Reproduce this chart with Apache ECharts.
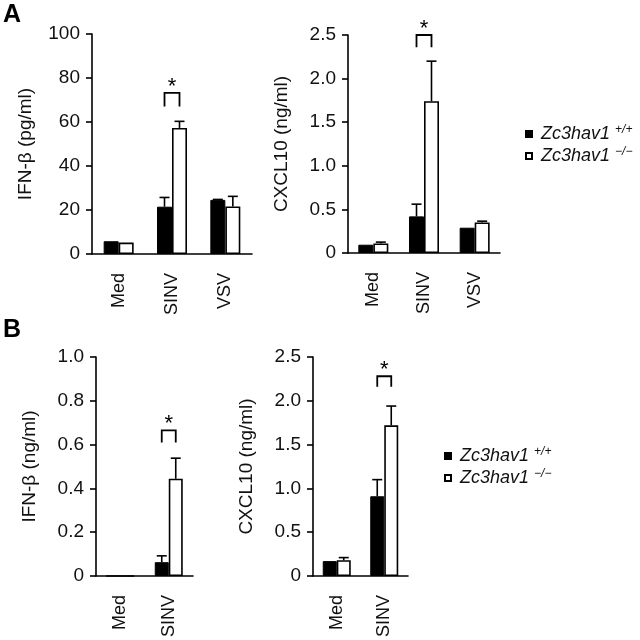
<!DOCTYPE html>
<html><head><meta charset="utf-8">
<script src="https://cdn.jsdelivr.net/npm/echarts@6/dist/echarts.min.js"></script>
<style>html,body{margin:0;padding:0;background:#fff}#c{width:640px;height:640px}</style>
</head><body><div id="c"></div>
<script>
// ---- data ----
const categoriesA = ['Med', 'SINV', 'VSV'];
const categoriesB = ['Med', 'SINV'];
const seriesNames = ['Zc3hav1 +/+', 'Zc3hav1 −/−'];

// Panel A, IFN-β (pg/ml)
const ifnA_wt = [5.8, 21.5, 24.6];
const ifnA_wtErr = [5.8, 25.7, 24.8];
const ifnA_ko = [5.2, 57.3, 21.6];
const ifnA_koErr = [5.2, 60.3, 26.2];
// Panel A, CXCL10 (ng/ml)
const cxclA_wt = [0.095, 0.42, 0.29];
const cxclA_wtErr = [0.095, 0.56, 0.29];
const cxclA_ko = [0.11, 1.74, 0.35];
const cxclA_koErr = [0.125, 2.20, 0.365];
// Panel B, IFN-β (ng/ml)
const ifnB_wt = [0, 0.063];
const ifnB_wtErr = [0, 0.092];
const ifnB_ko = [0, 0.444];
const ifnB_koErr = [0, 0.538];
// Panel B, CXCL10 (ng/ml)
const cxclB_wt = [0.17, 0.91];
const cxclB_wtErr = [0.17, 1.10];
const cxclB_ko = [0.18, 1.72];
const cxclB_koErr = [0.21, 1.94];

// significance brackets: [category index, leg bottom, bracket top]
const sigA_ifn = [[1, 67, 73.2]];
const sigA_cxcl = [[1, 2.36, 2.5]];
const sigB_ifn = [[1, 0.61, 0.665]];
const sigB_cxcl = [[1, 2.16, 2.28]];

// y-axis settings
const yMaxA_ifn = 100, yStepA_ifn = 20;
const yMaxA_cxcl = 2.5, yStepA_cxcl = 0.5;
const yMaxB_ifn = 1.0, yStepB_ifn = 0.2;
const yMaxB_cxcl = 2.5, yStepB_cxcl = 0.5;

// ---- chart ----
const FONT = 'Liberation Sans, Arial, Helvetica, sans-serif';
const TXT = '#111';
const fmtInt = v => String(v);
const fmt1 = v => v === 0 ? '0' : v.toFixed(1);

const panels = [
  { grid: { left: 92, top: 34, width: 160, height: 220 }, cats: categoriesA, max: yMaxA_ifn, step: yStepA_ifn, fmt: fmtInt,
    name: 'IFN-β (pg/ml)', wt: ifnA_wt, wtE: ifnA_wtErr, ko: ifnA_ko, koE: ifnA_koErr, sig: sigA_ifn, bw: 15 },
  { grid: { left: 348, top: 35, width: 152, height: 218 }, cats: categoriesA, max: yMaxA_cxcl, step: yStepA_cxcl, fmt: fmt1,
    name: 'CXCL10 (ng/ml)', wt: cxclA_wt, wtE: cxclA_wtErr, ko: cxclA_ko, koE: cxclA_koErr, sig: sigA_cxcl, bw: 15 },
  { grid: { left: 96, top: 357, width: 97, height: 219.5 }, cats: categoriesB, max: yMaxB_ifn, step: yStepB_ifn, fmt: fmt1,
    name: 'IFN-β (ng/ml)', wt: ifnB_wt, wtE: ifnB_wtErr, ko: ifnB_ko, koE: ifnB_koErr, sig: sigB_ifn, bw: 14 },
  { grid: { left: 313, top: 357, width: 95, height: 219.5 }, cats: categoriesB, max: yMaxB_cxcl, step: yStepB_cxcl, fmt: fmt1,
    name: 'CXCL10 (ng/ml)', wt: cxclB_wt, wtE: cxclB_wtErr, ko: cxclB_ko, koE: cxclB_koErr, sig: sigB_cxcl, bw: 14 }
];

const axisLine = { show: true, lineStyle: { color: '#000', width: 1.6 } };

function errSeries(gi, vals, errs, side, bw) {
  return {
    type: 'custom', xAxisIndex: gi, yAxisIndex: gi, z: 5, silent: true, clip: false,
    data: vals.map((v, i) => [i, v, errs[i]]),
    renderItem(params, api) {
      const i = api.value(0), v = api.value(1), e = api.value(2);
      if (!(e > v)) return;
      const p0 = api.coord([i, v]), p1 = api.coord([i, e]);
      const x = p0[0] + side * bw / 2;
      const st = { stroke: '#000', lineWidth: 1.6 };
      return { type: 'group', children: [
        { type: 'line', shape: { x1: x, y1: p0[1], x2: x, y2: p1[1] }, style: st },
        { type: 'line', shape: { x1: x - 5, y1: p1[1], x2: x + 5, y2: p1[1] }, style: st }
      ] };
    }
  };
}

function sigSeries(gi, sig, bw) {
  return {
    type: 'custom', xAxisIndex: gi, yAxisIndex: gi, z: 6, silent: true, clip: false,
    data: sig,
    renderItem(params, api) {
      const i = api.value(0), lo = api.value(1), hi = api.value(2);
      const pLo = api.coord([i, lo]), pHi = api.coord([i, hi]);
      const xl = pLo[0] - bw / 2, xr = pLo[0] + bw / 2;
      return { type: 'group', children: [
        { type: 'polyline', shape: { points: [[xl, pLo[1]], [xl, pHi[1]], [xr, pHi[1]], [xr, pLo[1]]] },
          style: { stroke: '#000', lineWidth: 1.8, fill: null } },
        { type: 'text', style: { text: '*', x: pLo[0], y: pHi[1] - 6, align: 'center', verticalAlign: 'middle',
          font: '22px ' + FONT, fill: '#000' } }
      ] };
    }
  };
}

const option = {
  animation: false,
  backgroundColor: '#fff',
  grid: panels.map(p => p.grid),
  xAxis: panels.map((p, gi) => ({
    gridIndex: gi, type: 'category', data: p.cats,
    axisLine: axisLine, axisTick: { show: false },
    axisLabel: { rotate: 90, margin: 19, fontSize: 18, color: TXT, fontFamily: FONT }
  })),
  yAxis: panels.map((p, gi) => ({
    gridIndex: gi, type: 'value', min: 0, max: p.max, interval: p.step,
    splitLine: { show: false }, axisLine: axisLine,
    axisTick: { show: true, length: 6, lineStyle: { color: '#000', width: 1.6 } },
    axisLabel: { formatter: p.fmt, fontSize: 19, color: TXT, fontFamily: FONT, margin: 12 },
    name: p.name, nameLocation: 'middle', nameGap: 57,
    nameTextStyle: { fontSize: 19, color: TXT, fontFamily: FONT }
  })),
  legend: [
    { left: 520, top: 119 }, { left: 439, top: 441 }
  ].map(pos => Object.assign({
    data: seriesNames, orient: 'vertical', icon: 'rect', itemWidth: 6, itemHeight: 6, itemGap: 3,
    selectedMode: false,
    formatter: n => { const k = n.split(' '); return '{i|' + k[0] + '} {s|' + k[1] + '}'; },
    textStyle: { color: TXT, fontFamily: FONT, fontSize: 18, padding: [0, 0, 0, 4],
      rich: { i: { fontStyle: 'italic', fontSize: 18, fontFamily: FONT, color: TXT, lineHeight: 20 },
              s: { fontStyle: 'italic', fontSize: 12, fontFamily: FONT, color: TXT, verticalAlign: 'top', lineHeight: 12 } } }
  }, pos)),
  graphic: [
    { type: 'text', left: 3, top: 3, style: { text: 'A', font: 'bold 25px ' + FONT, fill: '#000' } },
    { type: 'text', left: 3, top: 318, style: { text: 'B', font: 'bold 25px ' + FONT, fill: '#000' } }
  ],
  series: []
};

panels.forEach((p, gi) => {
  option.series.push(
    { type: 'bar', name: seriesNames[0], xAxisIndex: gi, yAxisIndex: gi, data: p.wt, barWidth: p.bw, barGap: '0%',
      itemStyle: { color: '#000', borderColor: '#000', borderWidth: 1 } },
    { type: 'bar', name: seriesNames[1], xAxisIndex: gi, yAxisIndex: gi, data: p.ko, barWidth: p.bw, barGap: '0%',
      itemStyle: { color: '#fff', borderColor: '#000', borderWidth: 1.6 } },
    errSeries(gi, p.wt, p.wtE, -1, p.bw),
    errSeries(gi, p.ko, p.koE, 1, p.bw),
    sigSeries(gi, p.sig, p.bw)
  );
});

const chart = echarts.init(document.getElementById('c'), null, { renderer: 'canvas' });
chart.setOption(option);
</script>
</body></html>
